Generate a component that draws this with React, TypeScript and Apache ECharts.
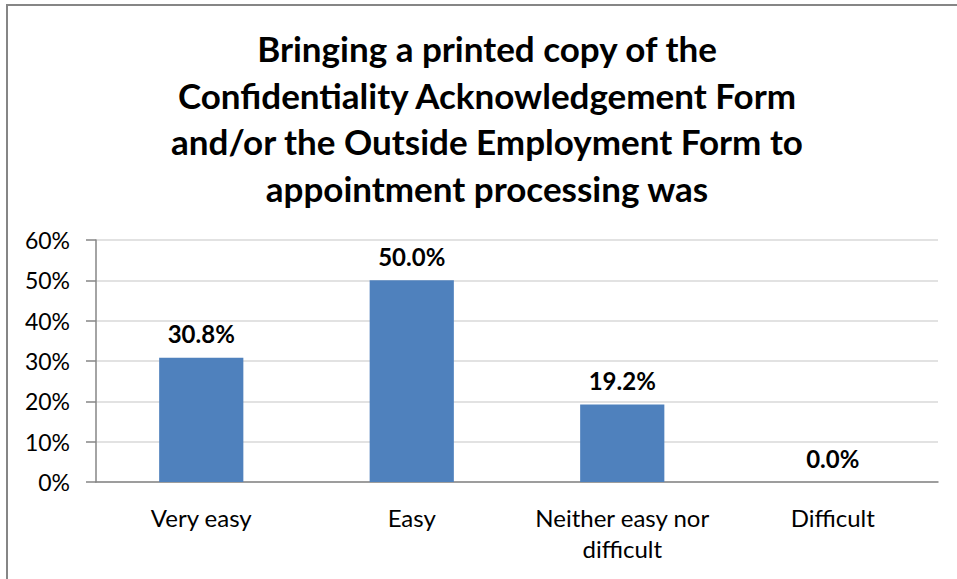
import React, { useEffect, useRef } from "react";
import * as echarts from "echarts";

const categories = ["Very easy", "Easy", "Neither easy nor\ndifficult", "Difficult"];
const values = [30.8, 50.0, 19.2, 0.0];
const yTicks = [0, 10, 20, 30, 40, 50, 60];
const titleLines = [
  "Bringing a printed copy of the",
  "Confidentiality Acknowledgement Form",
  "and/or the Outside Employment Form to",
  "appointment processing was",
];

const FONT = "Lato, Carlito, Calibri, 'Noto Sans', sans-serif";

export default function App() {
  const ref = useRef<HTMLDivElement>(null);
  useEffect(() => {
    document.body.style.margin = "0";
    if (!ref.current) return;
    const chart = echarts.init(ref.current, null, { renderer: "svg" });
    chart.setOption({
      animation: false,
      backgroundColor: "#ffffff",
      title: {
        text: titleLines.join("\n"),
        left: 487,
        top: 25,
        textAlign: "center",
        padding: 0,
        textStyle: {
          fontFamily: FONT,
          fontSize: 35,
          fontWeight: "bold",
          color: "#000000",
          lineHeight: 46.5,
        },
      },
      graphic: [
        {
          type: "rect",
          shape: { x: 7, y: 5, width: 980, height: 600 },
          style: { fill: "none", stroke: "#868686", lineWidth: 2 },
          silent: true,
        },
      ],
      grid: { left: 96, right: 19, top: 240, bottom: 97, containLabel: false },
      xAxis: {
        type: "category",
        data: categories,
        axisLine: { show: true, lineStyle: { color: "#868686", width: 1.5 } },
        axisTick: { show: false },
        axisLabel: {
          fontFamily: FONT,
          fontSize: 24,
          color: "#000000",
          margin: 20,
          lineHeight: 31,
          interval: 0,
        },
      },
      yAxis: {
        type: "value",
        min: yTicks[0],
        max: yTicks[yTicks.length - 1],
        interval: 10,
        axisLine: { show: true, lineStyle: { color: "#868686", width: 1.5 } },
        axisTick: { show: true, length: 10, lineStyle: { color: "#868686", width: 1.5 } },
        splitLine: { show: true, lineStyle: { color: "#D9D9D9", width: 1.5 } },
        axisLabel: {
          fontFamily: FONT,
          fontSize: 23,
          color: "#000000",
          margin: 26,
          formatter: (v: number) => `${v}%`,
        },
      },
      series: [
        {
          type: "bar",
          data: values,
          barWidth: "40%",
          itemStyle: { color: "#4F81BD" },
          label: {
            show: true,
            position: "top",
            distance: 12,
            fontFamily: FONT,
            fontSize: 24,
            fontWeight: "bold",
            color: "#000000",
            formatter: (p: any) => `${Number(p.value).toFixed(1)}%`,
          },
        },
      ],
    });
    return () => chart.dispose();
  }, []);
  return <div ref={ref} style={{ width: 957, height: 579 }} />;
}
